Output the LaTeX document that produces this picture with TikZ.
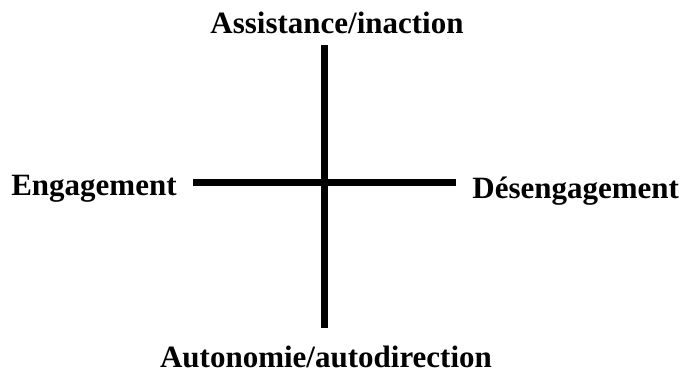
\documentclass[tikz,border=0pt]{standalone}
\usepackage{fontspec}
\setmainfont{Liberation Serif}
\usetikzlibrary{positioning}

\begin{document}
\begin{tikzpicture}[
    x=0.5pt, y=-0.5pt,
    axislabel/.style={
        inner sep=0pt,
        font=\fontsize{15.5}{18}\selectfont\bfseries
    },
    axisline/.style={
        line width=3.5pt
    }
]
\useasboundingbox (0,0) rectangle (680,371);

% ============================================================
% Axes
% ============================================================

\coordinate (vtop) at (324,45);
\coordinate (vbottom) at (324,328);
\coordinate (hleft) at (193,182);
\coordinate (hright) at (456,182);

\draw[axisline] (vtop) -- (vbottom);
\draw[axisline] (hleft) -- (hright);

% ============================================================
% Labels
% ============================================================

\node[axislabel, anchor=base] (assist) at (337,33)
{Assistance/inaction};

\node[axislabel, anchor=base east] (engage) at (177,195)
{Engagement};

\node[axislabel, anchor=base west] (desengage) at (472,198)
{Désengagement};

\node[axislabel, anchor=base] (autonomy) at (326,367)
{Autonomie/autodirection};

\end{tikzpicture}
\end{document}
